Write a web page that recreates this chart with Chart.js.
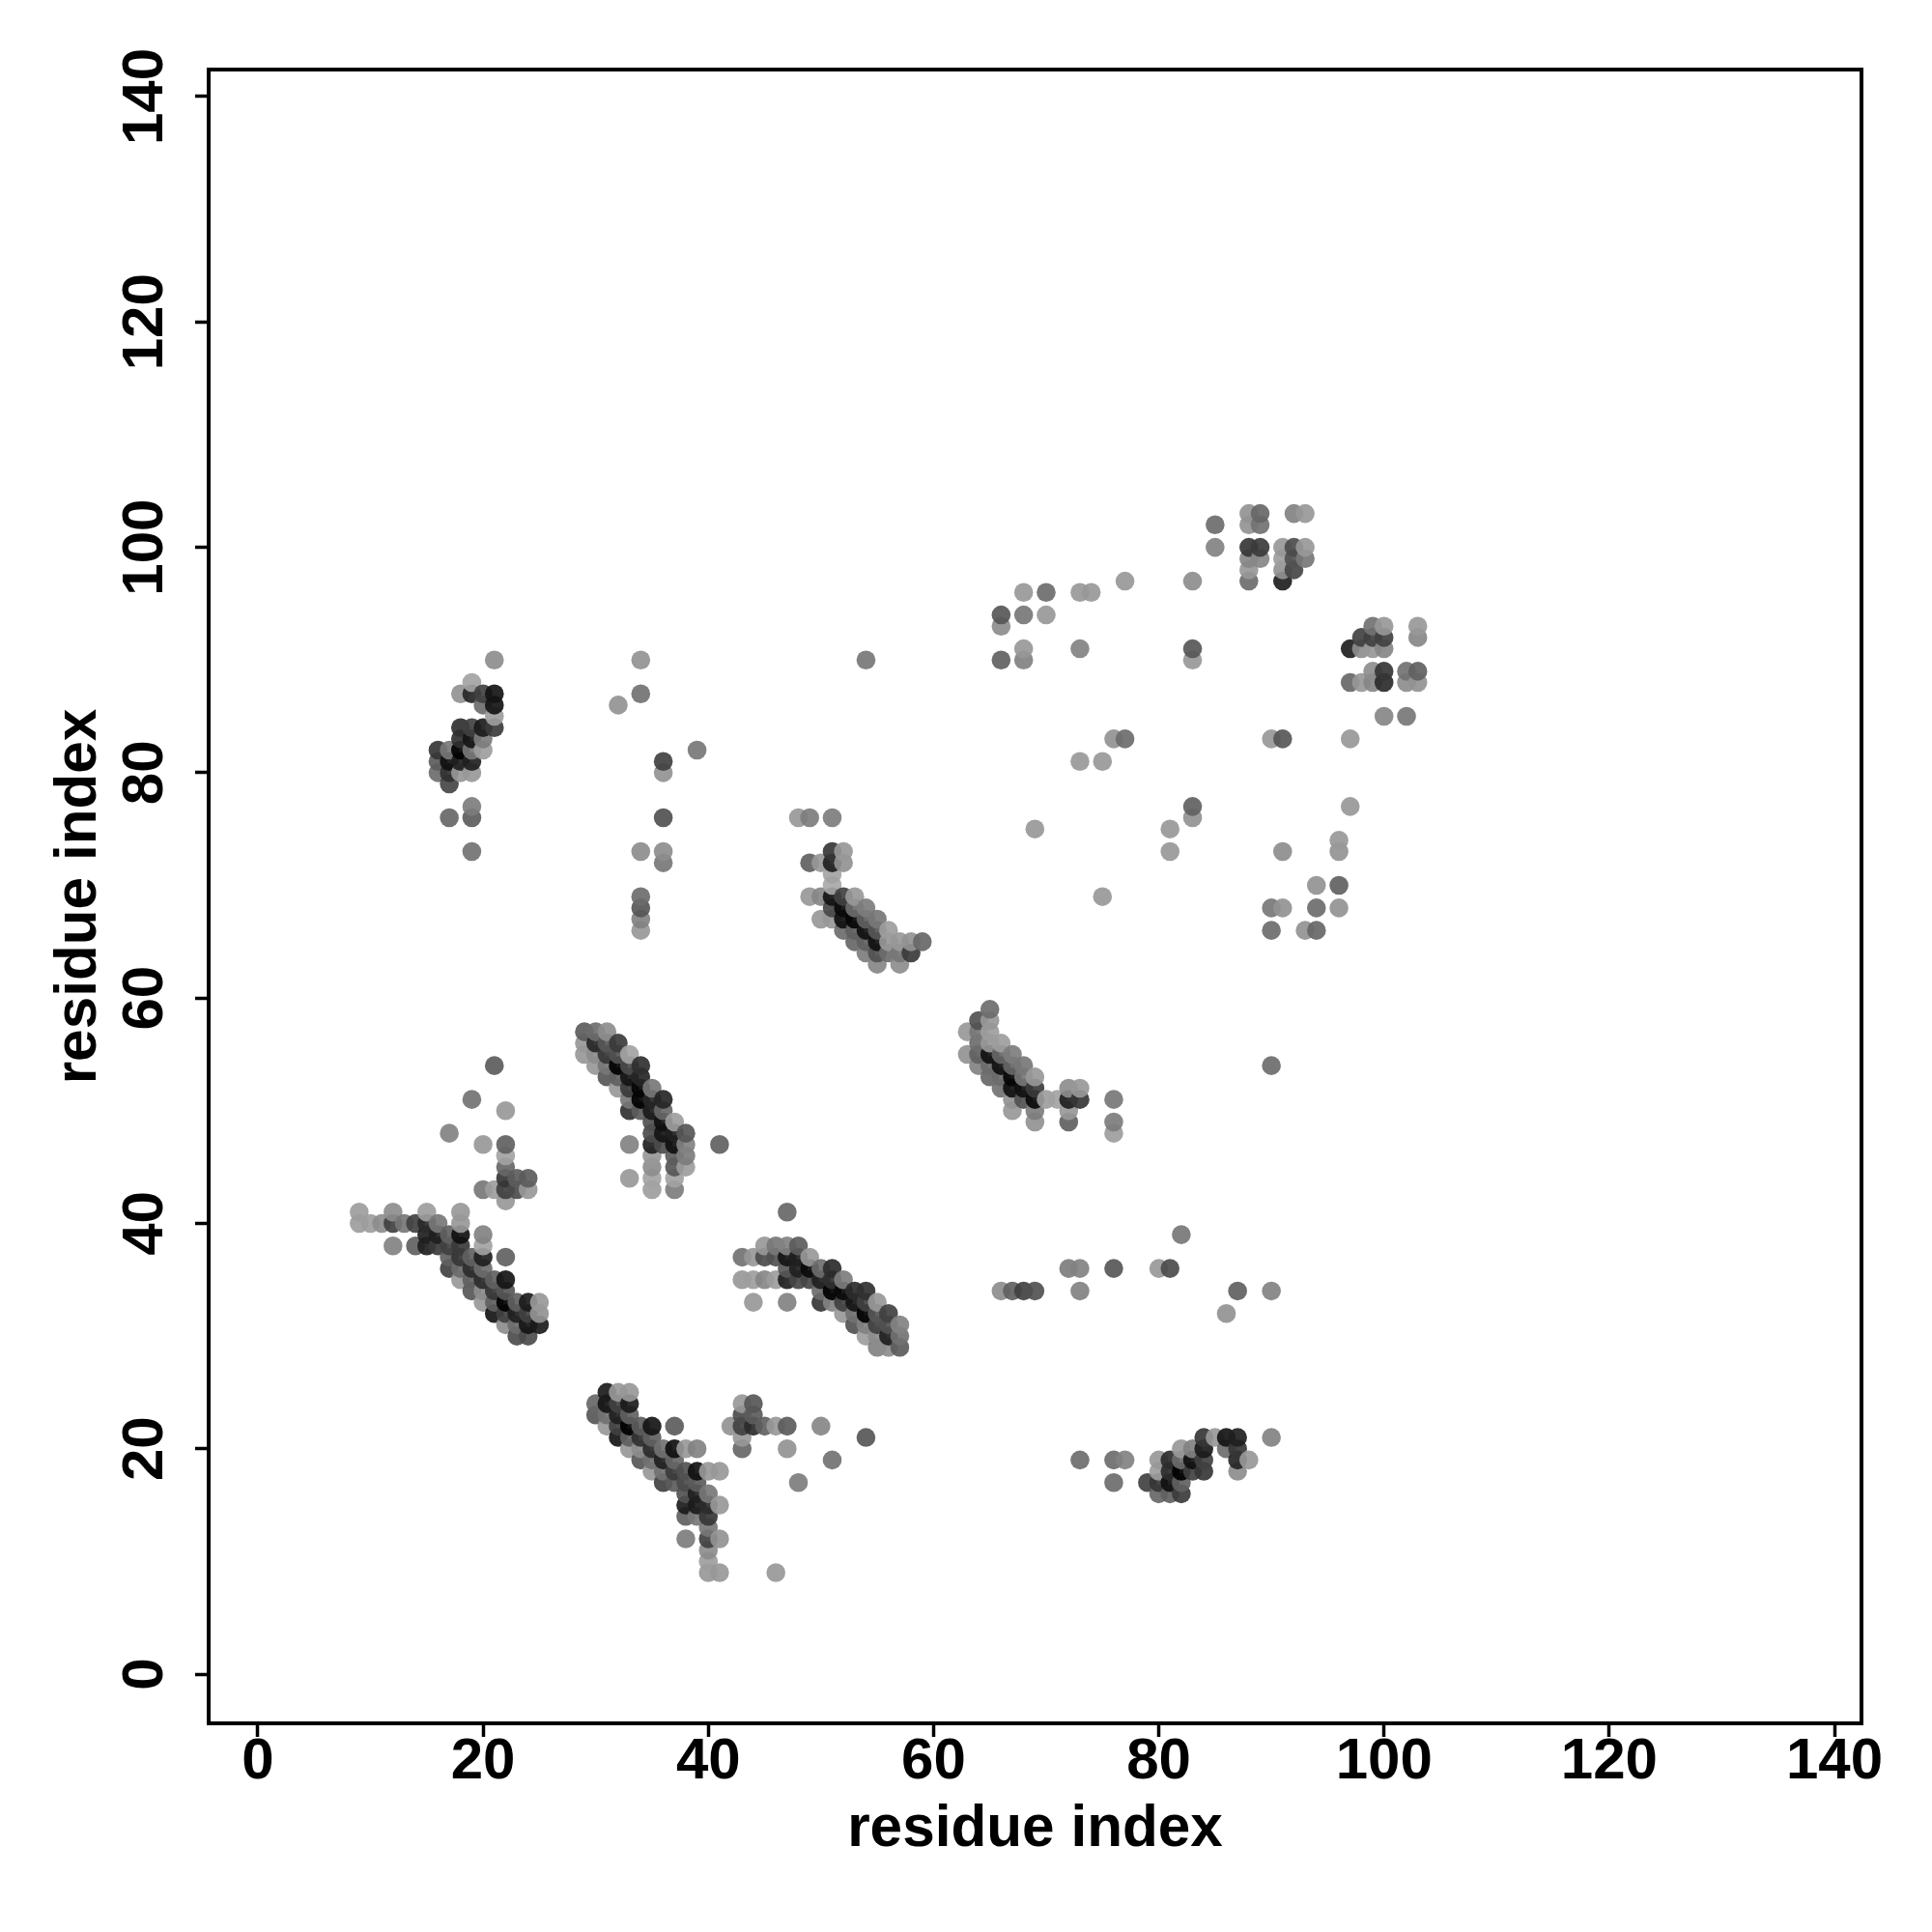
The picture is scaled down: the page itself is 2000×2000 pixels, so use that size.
<!DOCTYPE html>
<html>
<head>
<meta charset="utf-8">
<title>residue contacts</title>
<script src="https://cdn.jsdelivr.net/npm/chart.js@4"></script>
<style>
html, body { margin: 0; padding: 0; background: #fff; }
#wrap { width: 2000px; height: 2000px; }
</style>
</head>
<body>
<div id="wrap"><canvas id="contacts" width="2000" height="2000"></canvas></div>
<script>
const tickValues = [0, 20, 40, 60, 80, 100, 120, 140];
const axisLabel = "residue index";

// each block: residue i, residue j, grey level
const blockA_x = [21,19,22,17,20, 22,22,22,22,23,24,20,21,22,23,24,22];
const blockA_y = [54,51,50,48,47, 47,46,45,44,44,44,43,43,43,43,43,42];
const blockA_g = [95,115,150,130,150, 100,160,105,60,95,95,120,155,70,80,150,150];

const blockB_x = [9,12,15,18, 9,10,11,12,13,14,15,16,18, 15,16,17,18,20, 12,14,15,16,17,18,20,
  17,18,19,20,22, 17,18,19,20, 18,19,20,21,22, 19,20,21,22, 20,21,22,23,24,25, 21,22,23,24,25, 22,23,24,25, 23,24];
const blockB_y = [41,41,41,41, 40,40,40,40,40,40,40,40,40, 39,39,39,39,39, 38,38,38,38,38,38,38,
  37,37,37,37,37, 36,36,36,36, 35,35,35,35,35, 34,34,34,34, 33,33,33,33,33,33, 32,32,32,32,32, 31,31,31,31, 30,30];
const blockB_g = [155,140,155,150, 155,155,140,70,120,70,50,120,150, 40,40,100,25,130, 130,100,40,65,70,65,160,
  100,60,100,40,100, 70,110,50,110, 150,100,50,100,30, 90,140,60,90, 150,100,10,100,35,150, 30,70,40,70,145, 140,110,30,35, 80,80];

const blockC_x = [29,30,31, 29,30,31,32, 29,30,31,32,33, 30,31,32,33,34, 31,32,33,34, 32,33,34,35, 33,34,35,36, 33,34,35,36,
  35,36,37, 35,36,37,38, 33,35,36,37,38,41, 35,37,38, 35,37,38, 33,35,37, 35,37];
const blockC_y = [57,57,57, 56,56,56,56, 55,55,55,55,55, 54,54,54,54,54, 53,53,53,53, 52,52,52,52, 51,51,51,51, 50,50,50,50,
  49,49,49, 48,48,48,48, 47,47,47,47,47,47, 46,46,46, 45,45,45, 44,44,44, 43,43];
const blockC_g = [95,110,140, 150,45,90,65, 150,140,60,85,160, 150,120,5,80,55, 90,100,30,45, 150,65,15,120, 120,10,45,45, 55,95,35,105,
  85,25,155, 80,30,40,90, 130,40,80,25,130,100, 150,95,125, 140,90,155, 150,160,160, 155,125];

const blockD_x = [47, 45,46,47,48, 43,44,45,46,47,48,49, 47,48,49,50,51, 43,44,45,46,47,48,49,50,51,52,
  50,51,52,53,54, 44,47,50,51,52,53,54,55, 52,53,54,55,56, 53,54,55,56,57, 54,55,56,57, 55,56,57];
const blockD_y = [41, 38,38,38,38, 37,37,37,37,37,37,37, 36,36,36,36,36, 35,35,35,35,35,35,35,35,35,35,
  34,34,34,34,34, 33,33,33,33,33,33,33,33, 32,32,32,32,32, 31,31,31,31,31, 30,30,30,30, 29,29,29];
const blockD_g = [105, 150,120,130,95, 115,150,80,85,30,40,150, 90,40,20,110,50, 150,155,135,155,40,75,75,40,55,125,
  110,10,20,50,55, 150,130,60,130,70,30,70,150, 150,115,5,90,70, 85,130,70,85,130, 155,140,40,115, 130,140,95];

const blockE_x = [31,32,33, 30,31,32,33, 30,31,32,33, 31,32,33,34,35,37, 32,33,34,35, 33,34,35,36,37,38,39,
  34,35,36,37, 35,36,37,38,39,40,41, 36,37,38,39, 38,39,40, 38,39,40,41, 38,39,40, 40, 38,40,41, 40, 40, 40,41,46];
const blockE_y = [25,25,25, 24,24,24,24, 23,23,23,23, 22,22,22,22,22,22, 21,21,21,21, 20,20,20,20,20,20,20,
  19,19,19,19, 18,18,18,18,18,18,18, 17,17,17,17, 16,16,16, 15,15,15,15, 14,14,14, 13, 12,12,12, 11, 10, 9,9,9];
const blockE_g = [35,150,150, 105,30,70,35, 90,115,40,100, 150,70,5,95,30,95, 30,100,55,100, 150,140,50,115,25,150,130,
  90,115,40,105, 150,115,65,85,25,150,150, 70,95,80,95, 85,40,120, 35,35,50,150, 100,120,60, 120, 125,70,145, 140, 155, 150,150,150];

const blockF_x = [43,44, 43,44, 42,43,44,45,46,47,50, 43,54, 43,47, 51, 48];
const blockF_y = [24,24, 23,23, 22,22,22,22,22,22,22, 21,21, 20,20, 19, 17];
const blockF_g = [150,90, 80,95, 145,70,50,100,150,95,135, 150,90, 105,145, 115, 125];

const blockG_x = [21, 19, 18,19,20,21, 20,21, 21, 18,19,20,21, 18,19,20, 16,17,18,19,20, 16,17,18,19, 16,17,18,19, 17, 19, 17,19, 19];
const blockG_y = [90, 88, 87,87,87,87, 86,86, 85, 84,84,84,84, 83,83,83, 82,82,82,82,82, 81,81,81,81, 80,80,80,80, 79, 77, 76,76, 73];
const blockG_g = [140, 160, 145,45,70,30, 110,30, 155, 55,70,35,65, 55,30,125, 60,120,10,120,155, 95,25,40,40, 110,55,150,150, 75, 125, 105,95, 115];

const blockH_x = [48,49,51, 51,52, 49,50,51,52, 51, 51, 49,50,51,52,53, 51,52,53,54, 50,51,52,53,54,55,
  52,53,54,55,56, 53,54,55,56,57,58,59, 54,55,56,57,58, 55,57];
const blockH_y = [76,76,76, 73,73, 72,72,72,72, 71, 70, 69,69,69,69,69, 68,68,68,68, 67,67,67,67,67,67,
  66,66,66,66,66, 65,65,65,65,65,65,65, 64,64,64,64,64, 63,63];
const blockH_g = [150,125,125, 60,150, 100,150,40,145, 160, 165, 150,135,30,70,150, 75,20,110,125, 150,150,25,15,100,120,
  110,100,25,90,155, 105,100,25,150,150,145,105, 125,85,110,120,65, 135,140];

const blockI_x = [65, 64,65, 63,64,65, 64,65,66, 63,64,65,66,67, 64,65,66,67,68, 65,66,67,68,69,
  66,67,68,69,72,73, 67,68,69,70,71,72,73,76, 67,69,72, 69,72,76, 76];
const blockI_y = [59, 58,58, 57,57,57, 56,56,56, 55,55,55,55,55, 54,54,54,54,54, 53,53,53,53,53,
  52,52,52,52,52,52, 51,51,51,51,51,51,51,51, 50,50,50, 49,49,49, 48];
const blockI_g = [110, 85,150, 150,120,155, 110,150,155, 145,100,25,105,125, 130,110,25,105,120, 105,110,15,120,150,
  115,25,25,65,140,150, 145,85,20,155,160,40,60,120, 150,125,150, 145,100,125, 155];

const blockJ_x = [88,89,92,93, 85,88,89, 85,88,89,91,92,93, 88,89,91,92,93, 88,91,92, 83,88,91];
const blockJ_y = [103,103,103,103, 102,102,102, 100,100,100,100,100,100, 99,99,99,99,99, 98,98,98, 97,97,97];
const blockJ_g = [145,105,130,150, 110,145,115, 130,60,65,150,80,150, 135,135,155,85,120, 150,145,75, 140,110,40];

const blockK_x = [99,100,103, 98,99,100,103, 97,98,99,100, 99,100,102,103, 97,98,99,100,102,103, 100,102, 97];
const blockK_y = [93,93,93, 92,92,92,92, 91,91,91,91, 89,89,89,89, 88,88,88,88,88,88, 85,85, 83];
const blockK_g = [115,150,150, 70,70,70,135, 40,140,150,135, 140,60,115,100, 105,150,135,50,140,145, 135,120, 150];

const blockL_x = [84,85,86,87,90, 82,83,84,86,87, 80,81,82,83,84,87,88, 80,81,82,83,84,87, 79,80,81,82, 80,81,82];
const blockL_y = [21,21,21,21,21, 20,20,20,20,20, 19,19,19,19,19,19,19, 18,18,18,18,18,18, 17,17,17,17, 16,16,16];
const blockL_g = [60,150,30,40,130, 150,130,35,110,60, 150,50,110,25,70,45,150, 155,50,10,70,60,140, 70,60,25,100, 105,100,65];

// single contacts scattered over the rest of the map
const looseTop_x = [66,66,66, 68,68,68,68, 70,70, 73,73,73, 74, 77, 83,83, 76,77, 75,75, 69, 81,81, 83,83, 54, 90,91, 97, 96,96,96,96, 91,91, 90, 94,94, 93,94, 90, 90];
const looseTop_y = [94,93,90, 96,94,91,90, 96,94, 96,91,81, 96, 97, 91,90, 83,83, 81,69, 75, 75,73, 77,76, 90, 83,83, 77, 74,73,70,68, 73,68, 68, 70,68, 66,66, 66, 54];
const looseTop_g = [90,140,100, 150,120,150,130, 110,150, 150,130,150, 150, 150, 90,150, 145,110, 150,150, 150, 150,150, 100,145, 120, 150,90, 150, 150,145,100,145, 140,145, 120, 145,110, 145,105, 110, 110];

const looseLeft_x = [34,32,34,36,36,39,36,34,36,36,34,34,34,34];
const looseLeft_y = [90,86,87,81,80,82,76,73,73,72,69,68,67,66];
const looseLeft_g = [145,145,115,70,145,120,85,140,140,120,110,90,130,150];

const looseLow_x = [66,67,68,69,72,73,73,76,80,81,82,86,87,90,73,76,77,76];
const looseLow_y = [34,34,34,34,36,36,34,36,36,36,39,32,34,34,19,19,19,17];
const looseLow_g = [140,100,70,85,125,130,130,90,150,80,120,145,100,130,110,110,130,110];

const blocks = [
  [blockA_x, blockA_y, blockA_g], [blockB_x, blockB_y, blockB_g], [blockC_x, blockC_y, blockC_g],
  [blockD_x, blockD_y, blockD_g], [blockE_x, blockE_y, blockE_g], [blockF_x, blockF_y, blockF_g],
  [blockG_x, blockG_y, blockG_g], [blockH_x, blockH_y, blockH_g], [blockI_x, blockI_y, blockI_g],
  [blockJ_x, blockJ_y, blockJ_g], [blockK_x, blockK_y, blockK_g], [blockL_x, blockL_y, blockL_g],
  [looseTop_x, looseTop_y, looseTop_g], [looseLeft_x, looseLeft_y, looseLeft_g], [looseLow_x, looseLow_y, looseLow_g]
];

// the original paints column by column, so later residues sit on top
let contacts = [];
blocks.forEach(b => {
  b[0].forEach((x, i) => contacts.push({ x: x, y: b[1][i], g: b[2][i] }));
});
contacts.sort((p, q) => p.x - q.x || p.y - q.y);

const ALPHA = 0.92;
// my readings came out a little dark next to the reference
const LIFT = 10;
function greyColor(g) {
  const c = Math.max(0, Math.round((g + LIFT - 255 * (1 - ALPHA)) / ALPHA));
  return `rgba(${c},${c},${c},${ALPHA})`;
}

const plotBox = {
  id: "plotBox",
  afterDraw(chart) {
    const a = chart.chartArea;
    const ctx = chart.ctx;
    ctx.save();
    ctx.strokeStyle = "#000";
    ctx.lineWidth = 4;
    ctx.strokeRect(a.left, a.top, a.right - a.left, a.bottom - a.top);
    ctx.restore();
  }
};

function axisConfig(isY) {
  return {
    type: "linear",
    min: -4.37,
    max: 142.4,
    afterBuildTicks(scale) {
      scale.ticks = tickValues.map(v => ({ value: v }));
    },
    // fixed gutters so the plot box lands where the reference has it
    afterFit(scale) {
      if (isY) scale.width = 216;
      else scale.height = 216;
    },
    grid: { drawOnChartArea: false, drawTicks: true, tickLength: 14, tickWidth: 3.5, tickColor: "#000" },
    border: { display: false },
    ticks: {
      color: "#000",
      padding: isY ? 0 : -10,
      autoSkip: false,
      maxRotation: isY ? 90 : 0,
      minRotation: isY ? 90 : 0,
      crossAlign: isY ? "center" : "near",
      font: { family: "'Liberation Sans'", size: 60, weight: "bold" }
    },
    title: {
      display: true,
      text: axisLabel,
      color: "#000",
      padding: isY ? { top: 46, bottom: 0 } : { top: 0, bottom: 69 },
      font: { family: "'Liberation Sans'", size: 60.3, weight: "bold" }
    }
  };
}

new Chart(document.getElementById("contacts"), {
  type: "scatter",
  data: {
    datasets: [{
      data: contacts,
      pointRadius: 9.8,
      pointHoverRadius: 9.8,
      pointBorderWidth: 0,
      pointBackgroundColor: contacts.map(p => greyColor(p.g))
    }]
  },
  options: {
    responsive: false,
    animation: false,
    layout: { padding: { left: 0, top: 72, right: 73, bottom: 0 } },
    plugins: { legend: { display: false }, tooltip: { enabled: false } },
    scales: {
      x: axisConfig(false),
      y: axisConfig(true)
    }
  },
  plugins: [plotBox]
});
</script>
</body>
</html>
